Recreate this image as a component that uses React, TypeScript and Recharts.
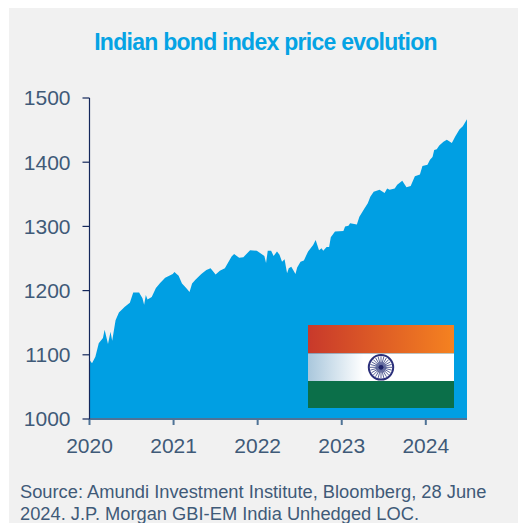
import React from "react";
import { AreaChart, Area, XAxis, YAxis } from "recharts";

// Fractional calendar years of the sampled index observations
const years = [
  2020.0, 2020.03, 2020.07, 2020.11, 2020.16, 2020.18, 2020.22, 2020.25, 2020.27, 2020.31,
  2020.35, 2020.42, 2020.48, 2020.52, 2020.59, 2020.63, 2020.65, 2020.67, 2020.69, 2020.74,
  2020.79, 2020.84, 2020.9, 2020.99, 2021.01, 2021.06, 2021.1, 2021.15, 2021.19, 2021.22,
  2021.26, 2021.33, 2021.39, 2021.44, 2021.5, 2021.55, 2021.61, 2021.69, 2021.72, 2021.78,
  2021.83, 2021.91, 2021.99, 2022.08, 2022.1, 2022.12, 2022.16, 2022.19, 2022.23, 2022.26,
  2022.29, 2022.32, 2022.35, 2022.37, 2022.4, 2022.45, 2022.47, 2022.51, 2022.55, 2022.6,
  2022.66, 2022.69, 2022.73, 2022.76, 2022.78, 2022.82, 2022.85, 2022.87, 2022.92, 2023.02,
  2023.04, 2023.08, 2023.1, 2023.18, 2023.21, 2023.27, 2023.31, 2023.34, 2023.38, 2023.45,
  2023.51, 2023.54, 2023.57, 2023.63, 2023.66, 2023.72, 2023.77, 2023.82, 2023.87, 2023.93,
  2023.96, 2024.02, 2024.05, 2024.08, 2024.1, 2024.13, 2024.16, 2024.21, 2024.25, 2024.31,
  2024.35, 2024.4, 2024.44, 2024.49,
];

// GBI-EM India unhedged index level at each of those dates
const indexLevels = [
  1092, 1087, 1097, 1118, 1126, 1139, 1117, 1136, 1122, 1154,
  1166, 1175, 1181, 1197, 1197, 1188, 1178, 1193, 1186, 1190,
  1204, 1212, 1220, 1226, 1229, 1223, 1211, 1204, 1198, 1211,
  1217, 1226, 1232, 1235, 1225, 1231, 1235, 1253, 1257, 1251,
  1252, 1263, 1262, 1254, 1243, 1262, 1262, 1254, 1261, 1256,
  1245, 1249, 1227, 1235, 1237, 1226, 1236, 1245, 1247, 1261,
  1271, 1279, 1263, 1266, 1262, 1268, 1268, 1283, 1292, 1293,
  1300, 1301, 1305, 1303, 1315, 1328, 1336, 1346, 1354, 1357,
  1352, 1359, 1357, 1359, 1365, 1371, 1361, 1363, 1378, 1381,
  1394, 1396, 1404, 1408, 1419, 1420, 1426, 1432, 1435, 1430,
  1440, 1451, 1456, 1467,
];

const yearTicks = [2020, 2021, 2022, 2023, 2024];
const levelTicks = [1000, 1100, 1200, 1300, 1400, 1500];

const chartTitle = "Indian bond index price evolution";
const sourceLines = [
  "Source: Amundi Investment Institute, Bloomberg, 28 June",
  "2024. J.P. Morgan GBI-EM India Unhedged LOC.",
];

const rows = years.map((year, i) => ({ year, level: indexLevels[i] }));

const FONT = '"Liberation Sans", Arial, sans-serif';
const INK = "#3f5a78";
const spokes = Array.from({ length: 24 }, (_, i) => (i * Math.PI) / 12);

// National flag inset, shaded across its left side
function Flag() {
  return (
    <svg
      width={146}
      height={83}
      viewBox="0 0 146 83"
      style={{ position: "absolute", left: 308, top: 325, display: "block" }}
    >
      <defs>
        <linearGradient id="saffron" x1="0" x2="1" y1="0" y2="0">
          <stop offset="0" stopColor="#c8392b" />
          <stop offset="1" stopColor="#f58220" />
        </linearGradient>
        <linearGradient id="paleBand" x1="0" x2="1" y1="0" y2="0">
          <stop offset="0" stopColor="#a9c7dc" />
          <stop offset="0.38" stopColor="#ffffff" />
          <stop offset="1" stopColor="#ffffff" />
        </linearGradient>
      </defs>
      <rect x={0} y={0} width={146} height={28.5} fill="url(#saffron)" />
      <rect x={0} y={28.5} width={146} height={27.5} fill="url(#paleBand)" />
      <rect x={0} y={56} width={146} height={27} fill="#0b6f49" />
      <g transform="translate(73 42.3)">
        <circle r={12.2} fill="#fff" stroke="#2b2f7a" strokeWidth={2} />
        {spokes.map((a) => (
          <line
            key={a}
            x1={0}
            y1={0}
            x2={11 * Math.cos(a)}
            y2={11 * Math.sin(a)}
            stroke="#5a6398"
            strokeWidth={1}
          />
        ))}
        <circle r={5.5} fill="#5a6398" opacity={0.7} />
        <circle r={2.4} fill="#1d2268" />
      </g>
    </svg>
  );
}

export default function App() {
  return (
    <div
      style={{
        position: "absolute",
        left: 0,
        top: 0,
        width: 518,
        height: 523,
        overflow: "hidden",
        background: "#ffffff",
        fontFamily: FONT,
      }}
    >
      <div style={{ position: "absolute", left: 9, top: 8, width: 509, height: 515, background: "#f1f1f1" }} />
      <div
        style={{
          position: "absolute",
          left: 0,
          top: 28,
          width: 531,
          textAlign: "center",
          color: "#05a3e4",
          fontSize: 23,
          fontWeight: 700,
          letterSpacing: -0.73,
          lineHeight: "28px",
          whiteSpace: "nowrap",
        }}
      >
        {chartTitle}
      </div>
      <div style={{ position: "absolute", left: 0, top: 0 }}>
        <AreaChart
          width={518}
          height={523}
          data={rows}
          margin={{ top: 98, right: 51, bottom: 0, left: 0 }}
        >
          <XAxis
            dataKey="year"
            type="number"
            domain={[2020, 2024.49]}
            ticks={yearTicks}
            height={104}
            tickSize={6}
            tickMargin={13}
            interval={0}
            allowDataOverflow
            axisLine={{ stroke: "#4f7396", strokeWidth: 2 }}
            tickLine={{ stroke: "#4f7396", strokeWidth: 2 }}
            tick={{ fill: INK, fontSize: 21, fontFamily: FONT }}
          />
          <YAxis
            type="number"
            domain={[1000, 1500]}
            ticks={levelTicks}
            width={89.5}
            tickSize={7}
            tickMargin={12}
            interval={0}
            axisLine={{ stroke: "#14285c", strokeWidth: 1.2 }}
            tickLine={{ stroke: "#14285c", strokeWidth: 1.2 }}
            tick={{ fill: INK, fontSize: 21, fontFamily: FONT }}
          />
          <Area
            dataKey="level"
            type="linear"
            stroke="none"
            fill="#009fe3"
            fillOpacity={1}
            isAnimationActive={false}
            dot={false}
            activeDot={false}
          />
        </AreaChart>
      </div>
      <Flag />
      <div
        style={{
          position: "absolute",
          left: 20,
          top: 481,
          color: INK,
          fontSize: 18.3,
          lineHeight: "22px",
          whiteSpace: "nowrap",
        }}
      >
        {sourceLines.map((line) => (
          <div key={line}>{line}</div>
        ))}
      </div>
    </div>
  );
}
